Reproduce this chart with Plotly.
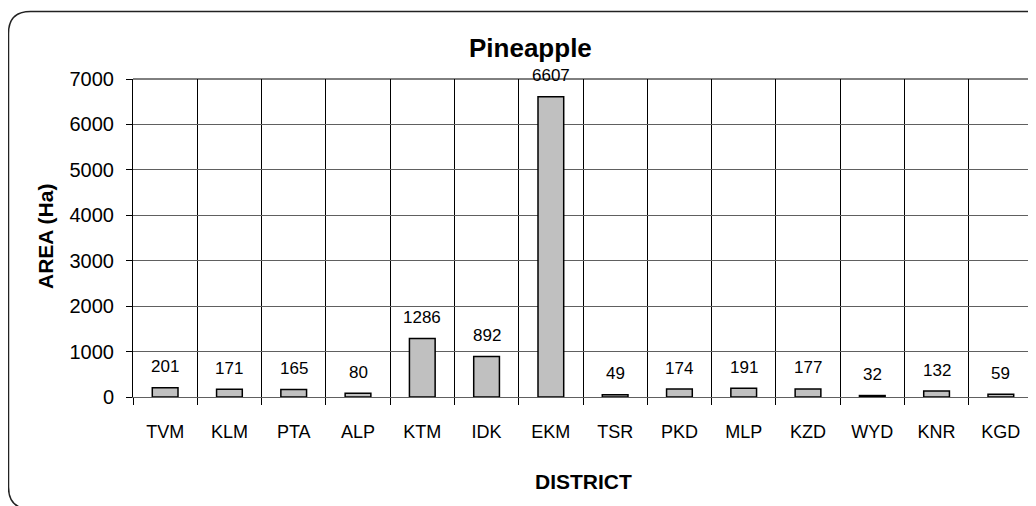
import plotly.graph_objects as go

districts = ["TVM", "KLM", "PTA", "ALP", "KTM", "IDK", "EKM", "TSR", "PKD", "MLP", "KZD", "WYD", "KNR", "KGD"]
area_ha = [201, 171, 165, 80, 1286, 892, 6607, 49, 174, 191, 177, 32, 132, 59]
y_ticks = [0, 1000, 2000, 3000, 4000, 5000, 6000, 7000]

OFF = 8  # page body margin
W, H = 1036 - OFF, 506 - OFF
# plot area in figure pixels
L, R, T, B = 133 - OFF, 1033 - OFF, 79 - OFF, 397 - OFF

def px(x):
    return (x - OFF - L) / (R - L)

def py(y):
    return (B - (y - OFF)) / (B - T)

FONT = "Liberation Sans, Arial, sans-serif"

fig = go.Figure()
fig.add_trace(go.Bar(
    x=districts, y=area_ha, width=0.4,
    marker=dict(color="#C0C0C0", line=dict(color="black", width=1.5)),
    hoverinfo="x+y",
))

for d, v in zip(districts, area_ha):
    fig.add_annotation(x=d, y=v, text=str(v), showarrow=False, yshift=21,
                       font=dict(size=17, color="black", family=FONT))

# Title and axis titles
fig.add_annotation(x=px(530), y=py(48), xref="paper", yref="paper", text="<b>Pineapple</b>",
                   xanchor="center", yanchor="middle",
                   showarrow=False, font=dict(size=26, color="black", family=FONT))
fig.add_annotation(x=px(583), y=py(481), xref="paper", yref="paper", text="<b>DISTRICT</b>",
                   xanchor="center", yanchor="middle",
                   showarrow=False, font=dict(size=21, color="black", family=FONT))
fig.add_annotation(x=px(45), y=py(237), xref="paper", yref="paper", text="<b>AREA (Ha)</b>",
                   xanchor="center", yanchor="middle",
                   showarrow=False, textangle=-90, font=dict(size=21, color="black", family=FONT))

# Rounded chart frame (page pixel coordinates)
x0, y0, x1, y1, r = 8.5, 11.5, 1051, 509, 22
path = (f"M {px(x0)} {py(y0 + r)} "
        f"Q {px(x0)} {py(y0)} {px(x0 + r)} {py(y0)} "
        f"L {px(x1 - r)} {py(y0)} "
        f"Q {px(x1)} {py(y0)} {px(x1)} {py(y0 + r)} "
        f"L {px(x1)} {py(y1 - r)} "
        f"Q {px(x1)} {py(y1)} {px(x1 - r)} {py(y1)} "
        f"L {px(x0 + r)} {py(y1)} "
        f"Q {px(x0)} {py(y1)} {px(x0)} {py(y1 - r)} Z")
fig.add_shape(type="path", path=path, xref="paper", yref="paper",
              line=dict(color="#222222", width=1.5), layer="above")
# top border of plot area
fig.add_shape(type="line", x0=0, x1=1, y0=1, y1=1, xref="paper", yref="paper",
              line=dict(color="black", width=1))

fig.update_layout(
    width=W, height=H,
    margin=dict(l=L, r=W - R, t=T, b=H - B, pad=0),
    paper_bgcolor="white", plot_bgcolor="white",
    showlegend=False, bargap=0.6,
    font=dict(family=FONT, size=18, color="black"),
)
fig.update_xaxes(
    type="category", tickson="boundaries", showgrid=True, gridcolor="black", gridwidth=1,
    ticks="outside", ticklen=7, tickcolor="black", tickwidth=1,
    showline=True, linecolor="#606060", linewidth=1,
    tickfont=dict(size=18), ticklabelstandoff=18,
    range=[-0.5, len(districts) - 0.5],
)
fig.update_yaxes(
    range=[0, 7000], tickvals=y_ticks, showgrid=True, gridcolor="#606060", gridwidth=1,
    zeroline=False, ticks="outside", ticklen=6, tickcolor="black",
    showline=True, mirror=True, linecolor="black", linewidth=1,
    tickfont=dict(size=20), ticklabelstandoff=8,
)

fig.write_html("out.html")
